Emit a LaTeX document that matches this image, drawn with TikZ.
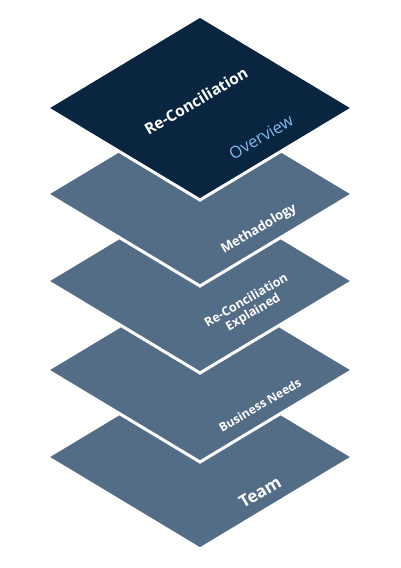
\documentclass[tikz,border=0pt]{standalone}
\usepackage{fontspec}
\setmainfont{Open Sans}
\usepackage{xcolor}
\definecolor{navy}{HTML}{0A2540}
\definecolor{slate}{HTML}{546D86}
\definecolor{skyblue}{HTML}{84B9EE}
\tikzset{
  layer/.style={fill=slate, draw=white, line width=3pt, line join=miter},
  toplayer/.style={layer, fill=navy},
  label/.style={text=white, font=\bfseries\fontsize{13}{14}\selectfont, rotate=30.5, align=center, inner sep=0pt}
}

\begin{document}
\begin{tikzpicture}[x=1pt, y=-1pt]
        \useasboundingbox (0,0) rectangle (400,568);

        % Team
        \filldraw[layer, shift={(0,457)}] (200,-92) -- (353,0) -- (200,92) -- (47,0) -- cycle;
        \node[label, font=\bfseries\fontsize{17}{18}\selectfont] (team) at (260,492) {Team};

        % Business Needs
        \filldraw[layer, shift={(0,370)}] (200,-92) -- (353,0) -- (200,92) -- (47,0) -- cycle;
        \node[label, font=\bfseries\fontsize{12}{13}\selectfont] (needs) at (260,405) {Business Needs};

        % Re-Conciliation Explained
        \filldraw[layer, shift={(0,281)}] (200,-92) -- (353,0) -- (200,92) -- (47,0) -- cycle;
        \node[label, font=\bfseries\fontsize{12.5}{13.5}\selectfont] (explained) at (250,307) {Re-Conciliation\\Explained};

        % Methadology
        \filldraw[layer, shift={(0,194)}] (200,-92) -- (353,0) -- (200,92) -- (47,0) -- cycle;
        \node[label] (method) at (259,229) {Methadology};

        % Overview (top)
        \filldraw[toplayer, shift={(0,108)}] (200,-92) -- (353,0) -- (200,92) -- (47,0) -- cycle;
        \node[label, font=\bfseries\fontsize{15.5}{17}\selectfont] (recon) at (196,101) {Re-Conciliation};
        \node[label, text=skyblue, font=\fontsize{16.5}{18}\selectfont] (overview) at (261,137) {Overview};
    \end{tikzpicture}
\end{document}
